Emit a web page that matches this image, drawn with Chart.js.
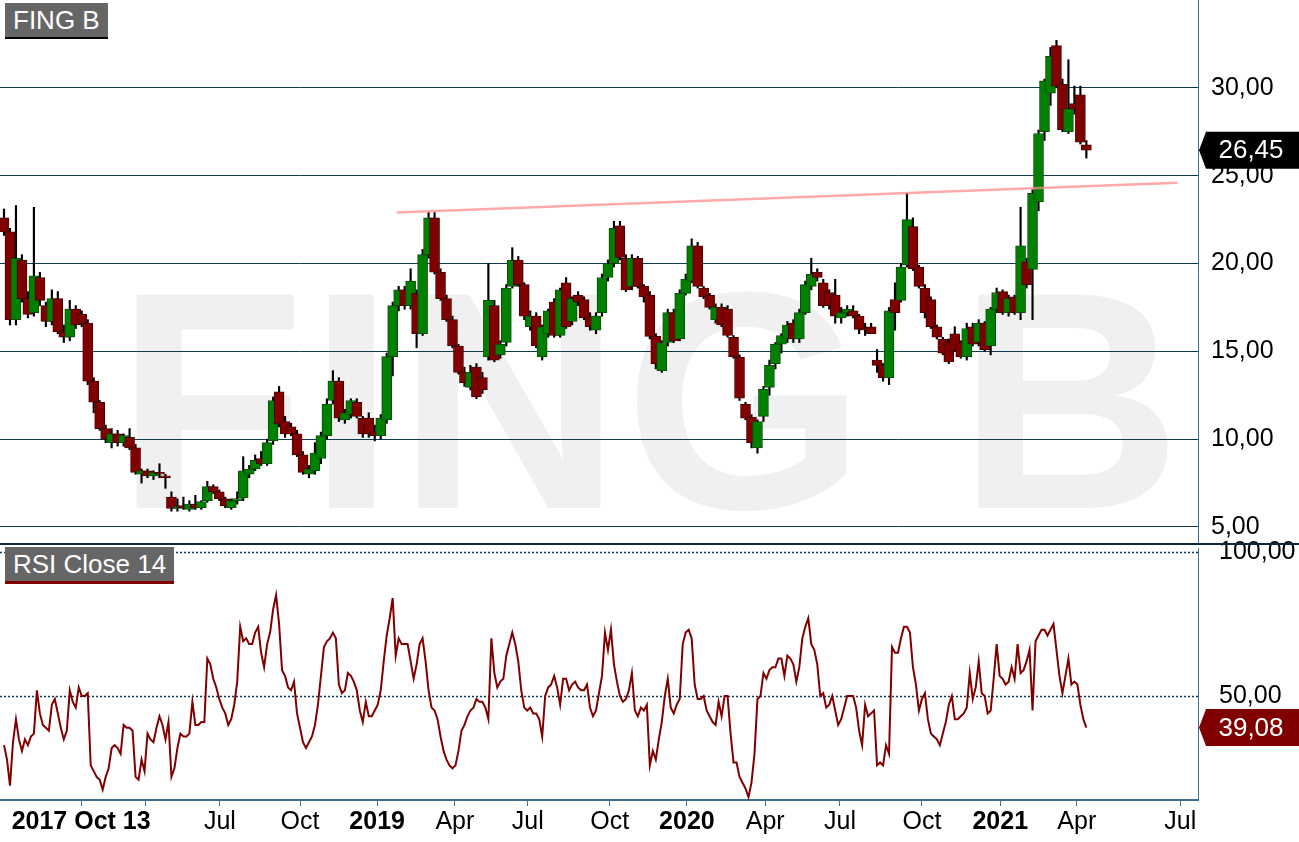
<!DOCTYPE html>
<html>
<head>
<meta charset="utf-8">
<script src="https://cdn.jsdelivr.net/npm/chart.js@4.4.0/dist/chart.umd.min.js"></script>
<style>
html,body{margin:0;padding:0;background:#fff;overflow:hidden}
#wrap{position:relative;width:1299px;height:842px;background:#fff;font-family:"Liberation Sans",Arial,sans-serif}
canvas{position:absolute;left:0}
#c1{top:0}
#c2{top:500px}
.tag{position:absolute;background:#666;color:#fff;font-size:26px;line-height:34px;height:34px;padding:0 8px;box-sizing:content-box;white-space:nowrap}
#t1{left:5px;top:3px;border-bottom:2px solid #000}
#t2{left:5px;top:547px;border-bottom:3px solid #800000}
#sep{position:absolute;left:0;top:543px;width:1299px;height:2px;background:#0b2a3a}
</style>
</head>
<body>
<div id="wrap">
  <canvas id="c1" width="1299" height="544"></canvas>
  <canvas id="c2" width="1299" height="342"></canvas>
  <div id="sep"></div>
  <div class="tag" id="t1">FING B</div>
  <div class="tag" id="t2">RSI Close 14</div>
</div>
<script>
// ---- data (weekly candles, week 0 = first candle) ----
const opens = [
22.6,21.8,16.8,20.2,18.0,17.2,19.2,17.6,16.7,18.0,
16.1,15.8,17.4,17.1,16.6,13.3,12.1,10.6,9.8,10.3,
9.8,10.1,9.5,8.0,8.2,7.9,8.1,7.9,6.7,6.05,
6.2,6.0,6.3,6.1,6.5,7.3,7.0,6.6,6.1,6.5,
6.65,8.0,8.3,8.9,8.6,9.9,12.7,11.0,10.7,10.3,
9.1,8.0,8.2,8.9,10.2,12.2,13.3,11.1,11.4,12.1,
11.2,11.2,10.4,10.2,11.1,14.7,17.6,18.5,17.6,18.3,
16.0,20.5,22.6,19.5,18.0,16.8,15.3,13.8,12.95,14.1,
13.5,14.7,17.6,14.8,15.5,18.7,20.2,18.8,16.4,17.0,
14.7,16.0,17.8,15.9,18.9,16.7,18.2,17.95,17.0,16.2,
17.2,19.2,20.0,22.15,20.3,18.7,20.3,18.7,18.2,15.85,
13.9,15.5,17.2,15.7,18.3,19.0,21.0,18.6,18.2,16.8,
17.5,17.4,15.8,14.66,12.0,11.25,9.5,11.3,12.95,14.3,
15.4,15.7,16.6,15.7,17.2,18.7,19.5,18.9,18.35,18.2,
16.9,17.2,17.3,17.0,16.3,16.4,14.5,14.2,13.5,17.95,
17.9,19.9,22.1,19.8,18.6,17.95,16.4,15.7,15.5,16.0,
15.5,14.7,16.4,15.5,16.6,15.3,17.4,18.4,17.2,18.1,
17.2,20.1,19.66,23.5,27.5,29.7,32.4,30.2,27.5,29.1,
29.6,26.75];
const highs = [
23.1,22.0,23.3,20.5,18.4,23.2,19.5,17.8,18.5,18.4,
16.5,17.9,17.6,17.3,16.8,13.5,12.2,10.8,10.6,10.5,
10.3,10.6,9.7,8.3,8.3,8.2,8.6,8.0,7.0,6.6,
6.7,6.5,6.8,6.5,7.6,7.4,7.1,6.7,6.6,7.0,
9.0,8.5,9.1,9.3,10.0,12.4,13.0,11.3,10.9,10.5,
9.3,8.5,9.8,10.4,12.3,13.9,13.5,11.7,12.3,12.3,
11.3,11.5,10.8,11.4,14.9,17.8,18.7,18.7,19.7,18.5,
20.8,22.9,22.9,19.7,18.2,17.0,15.4,14.1,14.2,14.3,
13.8,20.0,17.9,15.6,18.8,20.9,20.4,18.9,17.3,17.2,
16.5,17.4,18.0,18.6,19.2,18.1,18.4,18.1,17.2,17.2,
19.4,20.2,22.4,22.4,20.5,20.5,20.4,18.8,18.4,16.0,
15.6,17.4,17.4,18.5,19.4,21.4,21.2,18.7,18.3,17.7,
17.7,17.6,15.9,14.8,12.1,11.4,11.1,13.0,14.5,15.5,
16.0,16.7,16.8,17.4,19.0,20.3,19.7,19.1,18.5,19.1,
17.5,17.6,17.6,17.1,16.6,16.6,15.1,14.3,17.5,18.9,
20.0,24.0,22.6,19.9,18.8,18.1,16.5,15.8,15.7,16.4,
15.6,16.6,16.6,16.8,16.7,17.5,18.6,18.5,18.2,18.2,
23.2,20.3,24.2,27.6,30.5,32.3,32.7,30.5,31.6,30.1,
30.1,27.0];
const lows = [
21.6,16.5,16.5,17.8,16.9,17.0,17.6,16.4,16.5,16.0,
15.5,15.6,16.3,16.4,13.1,11.5,10.5,9.8,9.5,9.6,
9.6,9.4,8.0,7.5,7.8,7.7,7.8,7.2,5.9,5.9,
6.0,5.9,6.0,6.0,6.4,6.9,6.5,6.1,6.0,6.3,
6.5,7.8,8.2,8.5,8.5,9.7,10.7,10.1,10.2,9.0,
8.0,7.8,8.0,8.6,10.0,12.0,11.0,10.9,11.2,11.2,
10.1,10.1,9.9,10.0,10.9,13.6,17.3,17.4,17.4,15.2,
15.9,20.3,19.4,17.9,16.7,15.2,13.7,13.0,12.8,12.3,
12.6,14.5,14.4,14.6,15.3,18.6,18.7,16.8,16.2,15.2,
14.5,15.8,15.8,15.8,16.3,16.5,17.6,16.8,16.2,16.0,
17.0,19.0,19.8,20.2,18.4,18.5,18.6,17.8,15.7,14.0,
13.8,15.3,15.5,15.6,18.2,18.9,18.6,18.0,17.4,16.6,
16.4,15.8,14.6,12.2,11.1,9.5,9.2,11.0,12.5,14.0,
14.9,15.5,15.5,15.5,17.1,18.5,19.0,17.5,17.4,16.6,
16.6,17.0,16.9,16.0,15.9,16.0,13.8,13.3,13.1,16.2,
17.8,19.8,19.6,18.6,16.9,16.3,15.7,14.8,14.3,15.0,
14.6,14.5,15.3,15.3,15.0,14.8,17.2,17.1,17.0,17.1,
16.8,18.6,16.8,23.0,27.0,29.0,30.0,27.5,27.4,28.5,
26.8,26.0];
const closes = [
21.8,16.8,20.3,18.0,17.1,19.3,17.9,16.7,18.0,16.1,
15.8,17.4,16.5,16.6,13.3,12.1,10.6,10.0,10.3,9.8,
10.2,9.5,8.1,8.2,7.9,8.1,8.0,7.8,6.05,6.1,
6.1,6.3,6.1,6.45,7.3,7.0,6.6,6.2,6.5,6.6,
8.2,8.3,8.8,8.6,9.8,12.2,10.85,10.3,10.3,9.1,
8.1,8.3,9.2,10.2,12.0,13.3,11.2,11.5,12.2,11.3,
10.3,10.3,10.2,11.2,14.7,17.6,18.5,17.6,19.0,16.0,
20.5,22.6,19.5,18.0,16.8,15.3,13.8,13.2,13.8,12.4,
12.8,17.9,14.5,15.4,18.6,20.2,18.8,17.0,17.0,15.3,
16.4,17.3,15.9,18.5,16.4,18.0,17.8,16.9,16.4,17.0,
19.2,20.0,22.0,20.35,18.5,20.3,18.7,18.1,15.85,14.3,
15.5,17.2,15.6,18.3,19.1,21.0,18.7,18.1,17.5,17.5,
16.5,15.9,14.7,12.33,11.2,9.8,11.0,12.84,14.2,15.4,
15.9,16.5,15.7,17.2,18.8,19.4,19.2,17.6,17.6,17.0,
17.2,17.4,17.0,16.25,16.2,16.0,14.2,13.5,17.3,17.2,
19.8,22.5,19.7,18.7,17.2,16.4,15.8,14.9,14.4,15.05,
14.7,16.3,15.4,16.6,15.1,17.4,18.35,17.2,18.0,17.2,
21.0,18.8,24.0,27.4,30.4,31.8,30.1,27.6,28.8,28.8,
26.9,26.45];

// RSI(14) sampled every half week
const rsiStepWeeks = 0.5;
const rsiValues = [
33,28,19,34,42,35,31,35,33,36,
37,52,44,40,39,38,47,49,44,39,
35,38,52,48,46,53,50,50,51,26,
24,22,21,17.6,22,25,32,33,32,30,
40,39,39,38,22,21,28,24,37,35,
34,39,43,40,35,41,22,25,32,37,
36,36,37,48,40,40,41,41,63,61,
56,53,49,46,44,40,42,47,55,74,
69,70,68,68,72,74,65,60,68,72,
80,85,75,59,57,53,52,55,44,39,
34,32,34,36,40,47,57,67,69,70,
72,70,54,51,52,58,57,55,52,45,
41,48,43,43,45,47,52,62,71,77,
84,64,70,68,68,68,62,56,61,68,
70,62,52,46,45,42,36,31,28,26,
25,26,31,38,40,43,45,46,49,48,
48,46,42,70,58,53,55,56,64,68,
72,68,62,52,46,45,46,44,44,42,
36,50,53,54,57,53,47,56,56,52,
54,55,53,52,52,54,46,43,45,51,
57,72,66,73,61,55,50,48,49,52,
58,45,43,46,45,47,26,31,28,35,
41,50,56,46,44,47,49,68,72,73,
70,54,49,49,50,45,43,41,40,48,
43,50,50,37,27,27,22,20,18,15,
20,30,49,50,58,56,59,60,60,63,
63,57,64,63,61,55,60,70,74,77,
68,66,61,50,51,46,47,50,45,40,
42,46,50,50,50,46,38,33,47,43,
44,45,26,27,26,33,30,67,65,65,
70,74,74,72,60,54,45,49,51,42,
37,36,35,33,37,41,47,50,42,42,
43,44,46,58,49,53,62,51,50,44,
45,56,68,57,56,54,55,60,56,68,
58,59,62,66,45,69,71,73,73,71,
73,75,66,57,51,57,63,54,55,54,
47,42,39.08];

// axis labels (positions in weeks) and levels
const tickWeeks  = [12.9, 23.6, 36.1, 49.5, 62.4, 75.4, 87.6, 101.3, 114.2, 127.3, 139.8, 153.5, 166.6, 179.4, 196.7];
const tickLabels = ["2017 Oct 13", "", "Jul", "Oct", "2019", "Apr", "Jul", "Oct", "2020", "Apr", "Jul", "Oct", "2021", "Apr", "Jul"];
const priceTicks = [5, 10, 15, 20, 25, 30];
const rsiTicks = [50, 100];
const trendWeeks = [65.7, 196.2];
const trendValues = [22.9, 24.6];
const lastPrice = closes[closes.length - 1];
const lastRsi = rsiValues[rsiValues.length - 1];

const X_MIN = -0.67, X_MAX = 199.67;
const FONT = '"Liberation Sans", Arial, sans-serif';
Chart.defaults.font.family = FONT;

const fmt = v => v.toFixed(2).replace('.', ',');
const noPad = s => { s.paddingTop = 0; s.paddingBottom = 0; s.paddingLeft = 0; s.paddingRight = 0; };

const watermark = {
  id: 'watermark',
  beforeDraw(chart) {
    const ctx = chart.ctx;
    ctx.save();
    ctx.fillStyle = '#f0f0f0';
    ctx.font = 'bold 310px ' + FONT;
    try { ctx.letterSpacing = '3px'; } catch (e) {}
    ctx.textAlign = 'left';
    ctx.textBaseline = 'alphabetic';
    ctx.fillText('FING B', 116, 508);
    ctx.restore();
  }
};

function badgePlugin(id, value, color) {
  return {
    id: id,
    afterDraw(chart) {
      const ctx = chart.ctx, ys = chart.scales.y;
      const x0 = chart.chartArea.right + 1, W = chart.width;
      const yc = ys.getPixelForValue(value), h = 37;
      ctx.save();
      ctx.fillStyle = color;
      ctx.beginPath();
      ctx.moveTo(x0, yc);
      ctx.lineTo(x0 + 7, yc - h / 2);
      ctx.lineTo(W, yc - h / 2);
      ctx.lineTo(W, yc + h / 2);
      ctx.lineTo(x0 + 7, yc + h / 2);
      ctx.closePath();
      ctx.fill();
      ctx.fillStyle = '#fff';
      ctx.font = '26px ' + FONT;
      ctx.textAlign = 'center';
      ctx.textBaseline = 'middle';
      ctx.fillText(fmt(value), (x0 + W) / 2 + 2, yc + 1);
      ctx.restore();
    }
  };
}

const dottedLevels = {
  id: 'dottedLevels',
  beforeDatasetsDraw(chart) {
    const ctx = chart.ctx, ys = chart.scales.y, a = chart.chartArea;
    ctx.save();
    ctx.strokeStyle = '#0d3b4f';
    ctx.lineWidth = 1.5;
    ctx.setLineDash([2, 2]);
    rsiTicks.forEach(v => {
      const y = Math.round(ys.getPixelForValue(v)) + 0.5;
      ctx.beginPath(); ctx.moveTo(a.left, y); ctx.lineTo(a.right, y); ctx.stroke();
    });
    ctx.restore();
  }
};

const idx = closes.map((_, i) => i);
const up = i => closes[i] >= opens[i];

new Chart(document.getElementById('c1'), {
  type: 'bar',
  data: {
    datasets: [
      {
        type: 'line',
        data: trendWeeks.map((w, i) => ({ x: w, y: trendValues[i] })),
        borderColor: 'rgba(255,140,140,0.75)',
        borderWidth: 2.5,
        pointRadius: 0,
        order: 0
      },
      {
        data: idx.map(i => ({ x: i, y: [opens[i], closes[i]] })),
        backgroundColor: idx.map(i => up(i) ? '#008000' : '#800000'),
        borderColor: idx.map(i => up(i) ? '#0b4d0b' : '#4a0000'),
        borderWidth: 1,
        borderSkipped: false,
        barThickness: 10,
        minBarLength: 2,
        grouped: false,
        order: 1
      },
      {
        data: idx.map(i => ({ x: i, y: [lows[i], highs[i]] })),
        backgroundColor: '#000',
        barThickness: 1.5,
        grouped: false,
        order: 2
      }
    ]
  },
  options: {
    responsive: false,
    animation: false,
    devicePixelRatio: 1,
    layout: { padding: 0 },
    plugins: { legend: { display: false }, tooltip: { enabled: false } },
    scales: {
      x: { type: 'linear', min: X_MIN, max: X_MAX, display: false, offset: false },
      y: {
        position: 'right',
        min: 4.03, max: 35.0,
        afterBuildTicks: s => { s.ticks = [4.03, ...priceTicks, 35.0].map(v => ({ value: v })); },
        afterFit: s => { s.width = 101; noPad(s); },
        ticks: {
          callback: (v, i, t) => (i === 0 || i === t.length - 1) ? null : fmt(v),
          color: '#000', font: { size: 25 }, padding: 13
        },
        grid: { color: '#0d3b4f', lineWidth: 1, drawTicks: false },
        border: { display: true, color: '#3d6f8e', width: 1 }
      }
    }
  },
  plugins: [watermark, badgePlugin('priceBadge', lastPrice, '#000')]
});

new Chart(document.getElementById('c2'), {
  type: 'line',
  data: {
    datasets: [{
      data: rsiValues.map((v, k) => ({ x: k * rsiStepWeeks, y: v })),
      borderColor: '#800000',
      borderWidth: 2,
      pointRadius: 0,
      tension: 0
    }]
  },
  options: {
    responsive: false,
    animation: false,
    devicePixelRatio: 1,
    layout: { padding: { top: 48 } },
    plugins: { legend: { display: false }, tooltip: { enabled: false } },
    scales: {
      x: {
        type: 'linear', min: X_MIN, max: X_MAX, offset: false,
        afterBuildTicks: s => { s.ticks = tickWeeks.map(v => ({ value: v })); },
        afterFit: s => { s.height = 42; noPad(s); },
        ticks: {
          autoSkip: false, maxRotation: 0, minRotation: 0, padding: 1,
          callback: (v, i) => tickLabels[i],
          color: '#000',
          font: c => ({ size: 25, weight: /^\d{4}/.test(tickLabels[c.index] || '') ? 'bold' : 'normal' })
        },
        grid: { drawOnChartArea: false, drawTicks: true, tickLength: 6, tickColor: '#3d6f8e', color: '#3d6f8e' },
        border: { display: true, color: '#3d6f8e', width: 2 }
      },
      y: {
        position: 'right',
        min: 14, max: 101.3,
        afterBuildTicks: s => { s.ticks = [14, ...rsiTicks, 101.3].map(v => ({ value: v })); },
        afterFit: s => { s.width = 101; noPad(s); },
        ticks: {
          callback: (v, i, t) => (i === 0 || i === t.length - 1) ? null : fmt(v),
          color: '#000', font: { size: 25 }, padding: 13
        },
        grid: { display: false },
        border: { display: true, color: '#3d6f8e', width: 1 }
      }
    }
  },
  plugins: [dottedLevels, badgePlugin('rsiBadge', lastRsi, '#800000')]
});
</script>
</body>
</html>
